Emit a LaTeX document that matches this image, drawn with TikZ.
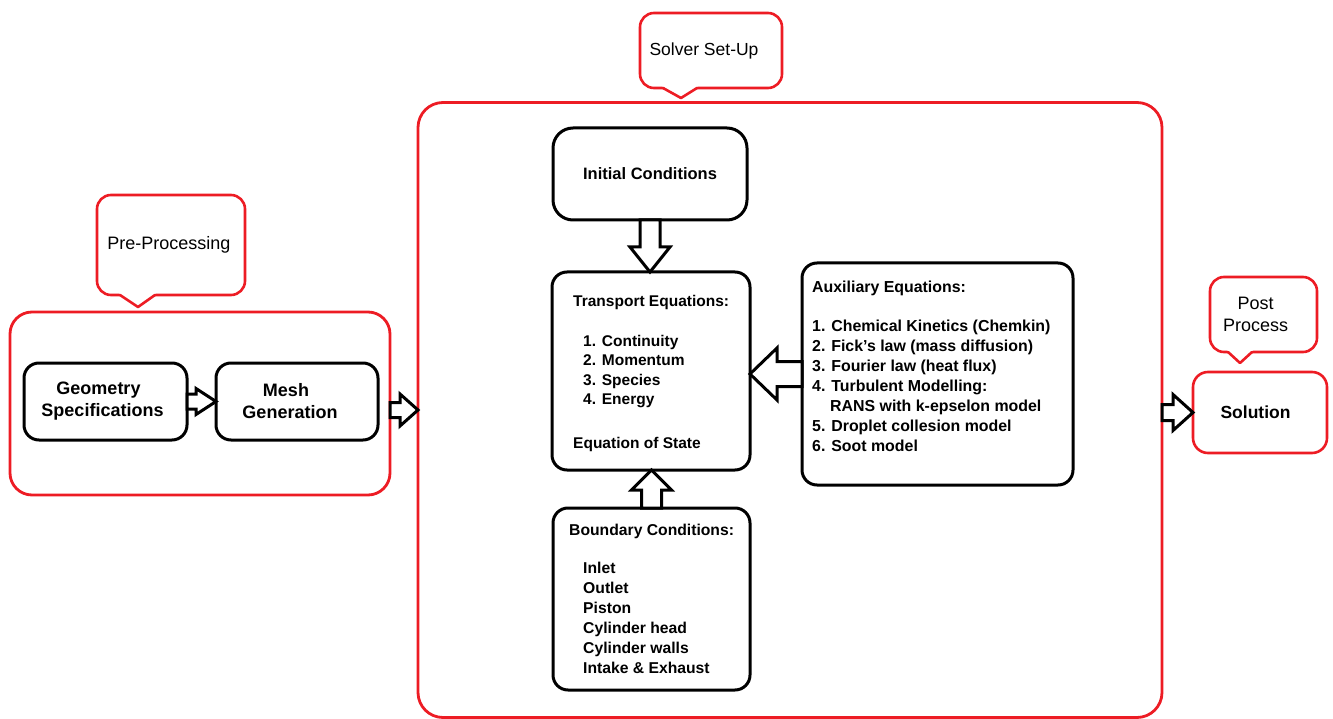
\documentclass[tikz,border=0pt]{standalone}
\usepackage{fontspec}
\setmainfont{Liberation Sans}
\usetikzlibrary{calc}
\definecolor{callred}{RGB}{237,28,36}

% block arrow from tail #1 to tip #2: shaft half-width #3, head half-width #4, head length #5
\newcommand\blockarrow[5]{%
  \path ($(#2)!#5!(#1)$) coordinate (ba-h);
  \draw[blk] ($(#1)!#3!90:(#2)$) -- ($(ba-h)!#3!-90:(#1)$) -- ($(ba-h)!#4!-90:(#1)$)
    -- (#2) -- ($(ba-h)!#4!90:(#1)$) -- ($(ba-h)!#3!90:(#1)$) -- ($(#1)!#3!-90:(#2)$) -- cycle;
}
% pointer under a callout #1: base from #2 to #3 (x offsets from south west), tip offset #4
\newcommand\calloutptr[4]{%
  \coordinate (#1-tip) at ($(#1.south west)+#4$);
  \fill[white] ($(#1.south west)+(#2-1,-2)$) -- (#1-tip) -- ($(#1.south west)+(#3+1,-2)$) -- cycle;
  \draw[callred, line width=2.6pt, line join=round, line cap=round]
    ($(#1.south west)+(#2,0)$) -- (#1-tip) -- ($(#1.south west)+(#3,0)$);
}
% pushes centred text left by half of #1
\newcommand\padr[1]{\hspace*{#1}}

\tikzset{
  stage/.style={draw=callred, line width=2.8pt, rounded corners=22pt, outer sep=0pt, inner sep=0pt},
  callbox/.style={draw=callred, line width=2.6pt, rounded corners=14pt, fill=white, outer sep=0pt,
    inner sep=0pt, align=center, font=\fontsize{18}{22}\selectfont},
  blackbox/.style={draw=black, line width=3pt, rounded corners=15pt, fill=white, outer sep=0pt,
    inner sep=0pt, align=center},
  listtext/.style={anchor=north west, inner sep=0pt, align=left},
  blk/.style={draw=black, line width=3pt, fill=white, line join=miter},
}

\begin{document}
\begin{tikzpicture}[x=1pt,y=-1pt]
\useasboundingbox (0,0) rectangle (1333,719);

% ---- pre-processing stage ----
\node[stage, minimum width=380pt, minimum height=183pt] (pre) at (200,403.5) {};
\node[callbox, minimum width=148pt, minimum height=100pt] (precall) at (171,245) {Pre-Processing\padr{4pt}};
\calloutptr{precall}{23}{58}{(41,12)}

\node[blackbox, minimum width=163pt, minimum height=77pt,
  font=\bfseries\fontsize{18}{22}\selectfont] (geo) at (105.5,401.5)
  {Geometry\padr{14pt}\\Specifications\padr{6pt}};
\node[blackbox, minimum width=162pt, minimum height=77pt,
  font=\bfseries\fontsize{18}{22}\selectfont] (mesh) at (297,401.5)
  {Mesh\padr{22pt}\\Generation\padr{14pt}};

% ---- solver set-up stage ----
\node[stage, rounded corners=25pt, minimum width=744pt, minimum height=615pt] (solver) at (790,410) {};
\node[callbox, minimum width=142pt, minimum height=75pt, font=\fontsize{17.5}{21}\selectfont]
  (solvercall) at (711,50.5) {Solver Set-Up\padr{14pt}};
\calloutptr{solvercall}{23}{57}{(41,10)}

\node[blackbox, rounded corners=20pt, minimum width=194pt, minimum height=92pt,
  font=\bfseries\fontsize{16.5}{20}\selectfont] (init) at (650,174) {Initial Conditions};
\node[blackbox, minimum width=198pt, minimum height=198pt] (trans) at (651,371) {};
\node[listtext, font=\bfseries\fontsize{15.5}{19.5}\selectfont] (transtext)
  at ($(trans.north west)+(21,23)$)
  {Transport Equations:\\[20.5pt]
   \hspace*{10pt}1. Continuity\\
   \hspace*{10pt}2. Momentum\\
   \hspace*{10pt}3. Species\\
   \hspace*{10pt}4. Energy\\[24.5pt]
   Equation of State};

\node[blackbox, minimum width=271pt, minimum height=222pt] (aux) at (937.5,374) {};
\node[listtext, font=\bfseries\fontsize{15.9}{20}\selectfont] (auxtext)
  at ($(aux.north west)+(10,18)$)
  {Auxiliary Equations:\\[19pt]
   1. Chemical Kinetics (Chemkin)\\
   2. Fick's law (mass diffusion)\\
   3. Fourier law (heat flux)\\
   4. Turbulent Modelling:\\
   \hspace*{18pt}RANS with k-epselon model\\
   5. Droplet collesion model\\
   6. Soot model};

\node[blackbox, minimum width=197pt, minimum height=182pt] (bound) at (651.5,599) {};
\node[listtext, font=\bfseries\fontsize{15.7}{20}\selectfont] (boundtext)
  at ($(bound.north west)+(16,15.5)$)
  {Boundary Conditions:\\[18pt]
   \hspace*{14pt}Inlet\\
   \hspace*{14pt}Outlet\\
   \hspace*{14pt}Piston\\
   \hspace*{14pt}Cylinder head\\
   \hspace*{14pt}Cylinder walls\\
   \hspace*{14pt}Intake \& Exhaust};

% ---- post-processing ----
\node[callbox, minimum width=107pt, minimum height=75pt] (postcall) at (1263.5,314.5)
  {Post\padr{16pt}\\Process\padr{16pt}};
\calloutptr{postcall}{18}{42}{(30,11)}
\node[callbox, minimum width=134pt, minimum height=81pt, rounded corners=15pt,
  font=\bfseries\fontsize{17.5}{21}\selectfont] (sol) at (1260,412.5) {Solution\padr{9pt}};

% ---- block arrows ----
\blockarrow{geo.east}{mesh.west}{7.5pt}{13pt}{20pt}

\coordinate (preout) at ($(pre.east)+(0,6.5)$);
\coordinate (solin) at (solver.west |- preout);
\blockarrow{preout}{solin}{7.5pt}{16pt}{18pt}

\coordinate (transtop) at (init.south |- trans.north);
\blockarrow{init.south}{transtop}{10pt}{20pt}{25pt}

\coordinate (transbot) at (bound.north |- trans.south);
\blockarrow{bound.north}{transbot}{10pt}{20pt}{20pt}

\coordinate (transright) at (trans.east |- aux.west);
\blockarrow{aux.west}{transright}{12.5pt}{26pt}{27pt}

\coordinate (solverout) at (solver.east |- sol.west);
\blockarrow{solverout}{sol.west}{8pt}{18pt}{20pt}

\end{tikzpicture}
\end{document}
